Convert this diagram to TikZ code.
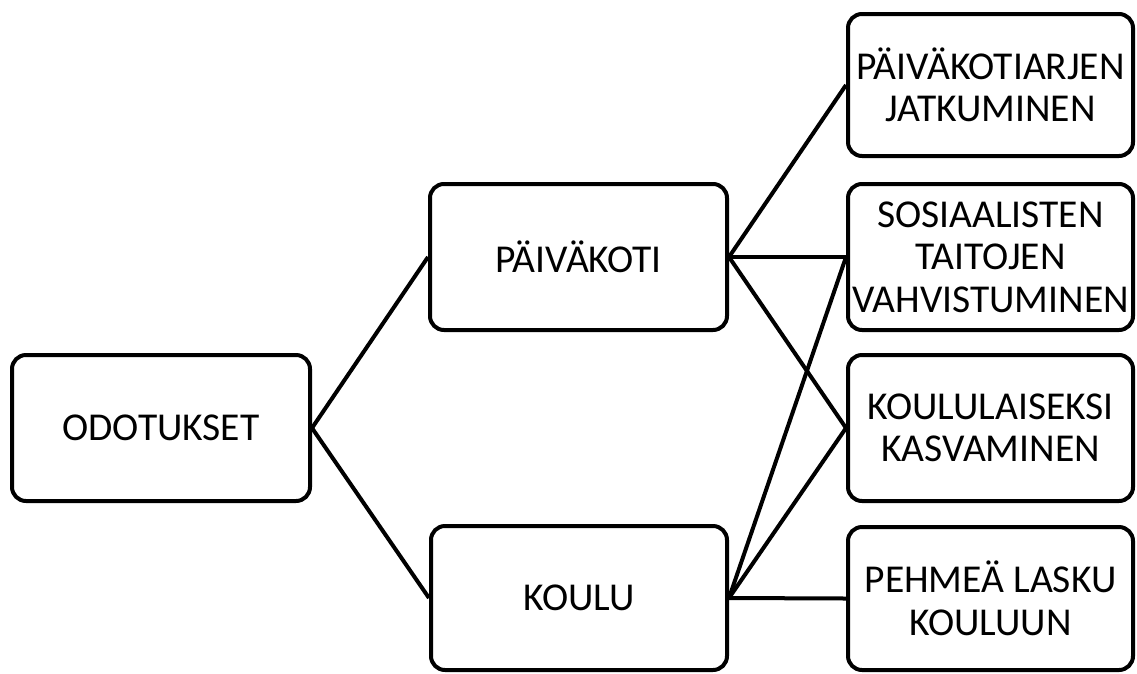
\documentclass[tikz,border=0pt]{standalone}
\usepackage{fontspec}
\setmainfont{Carlito}
\begin{document}
\begin{tikzpicture}[x=1pt,y=-1pt,
  box/.style={draw=black, line width=4pt, rounded corners=14pt, fill=white,
    align=center, inner sep=0pt, text=black, font=\fontsize{39.5}{42.5}\selectfont},
  big/.style={box},
  small/.style={box, minimum width=285pt},
  link/.style={draw=black, line width=4pt}]
\useasboundingbox (0,0) rectangle (1137,673);

% root and the two settings
\node[big, minimum width=298pt, minimum height=146pt] (odo) at (161,428) {ODOTUKSET};
\node[big, minimum width=297pt, minimum height=146pt] (pk) at (578.5,257) {PÄIVÄKOTI};
\node[big, minimum width=296pt, minimum height=144pt] (ko) at (579,598) {KOULU};

% outcomes
\node[small, minimum height=142pt] (r1) at (990.5,85) {PÄIVÄKOTIARJEN\\JATKUMINEN};
\node[small, minimum height=146pt] (r2) at (990.5,257) {SOSIAALISTEN\\TAITOJEN\\VAHVISTUMINEN};
\node[small, minimum height=146pt] (r3) at (990.5,428) {KOULULAISEKSI\\KASVAMINEN};
\node[small, minimum height=143pt] (r4) at (990.5,598.5) {PEHMEÄ LASKU\\KOULUUN};

% connectors
\draw[link] (odo.east) -- (pk.west);
\draw[link] (odo.east) -- (ko.west);
\draw[link] (pk.east) -- (r1.west);
\draw[link] (pk.east) -- (r2.west);
\draw[link] (pk.east) -- (r3.west);
\draw[link] (ko.east) -- (r2.west);
\draw[link] (ko.east) -- (r3.west);
\draw[link] (ko.east) -- (r4.west);
\end{tikzpicture}
\end{document}
